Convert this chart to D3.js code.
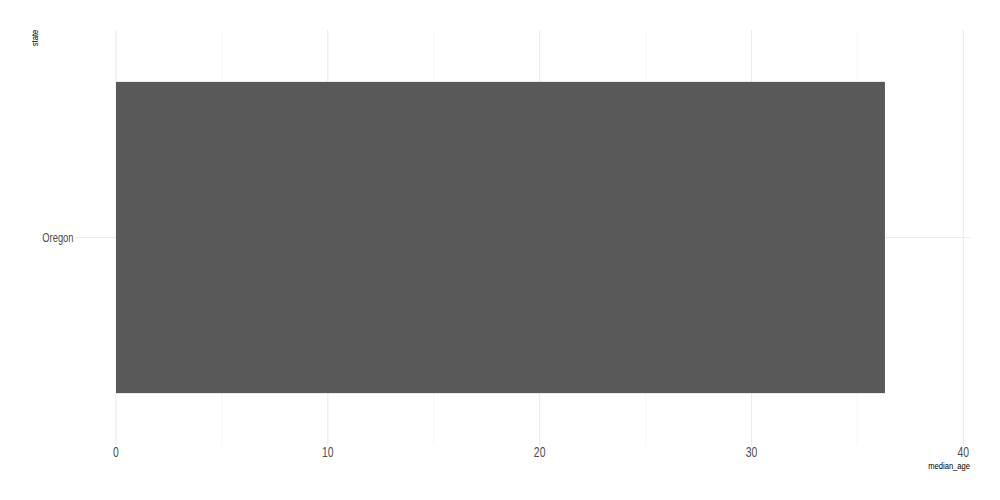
<!DOCTYPE html>
<html><head><meta charset="utf-8">
<script src="https://cdn.jsdelivr.net/npm/d3@7"></script>
<style>body{margin:0;background:#fff}svg{display:block}text{font-family:"Liberation Sans",Arial,sans-serif}</style>
</head><body><svg id="c" width="1000" height="500"></svg>
<script>
const states = ["Oregon"];
const medianAge = [36.3];
const xTicks = [0, 10, 20, 30, 40];
const xMinor = [5, 15, 25, 35];

const svg = d3.select("#c");
const panel = {left: 76, right: 970, top: 30, bottom: 445};
const x = d3.scaleLinear().domain([0, 40]).range([116, 963.3]);
// discrete axis: 1 unit of band = panel height / 1.2 (0.6 expansion each side)
const y = d3.scalePoint().domain(states).range([panel.top, panel.bottom]).padding(0.5);
const unit = (panel.bottom - panel.top) / 1.2;

const g = svg.append("g");
g.selectAll("line.minor").data(xMinor).join("line")
  .attr("x1", d => x(d)).attr("x2", d => x(d))
  .attr("y1", panel.top).attr("y2", panel.bottom)
  .attr("stroke", "#f2f2f2").attr("stroke-width", 0.6);
g.selectAll("line.major").data(xTicks).join("line")
  .attr("x1", d => x(d)).attr("x2", d => x(d))
  .attr("y1", panel.top).attr("y2", panel.bottom)
  .attr("stroke", "#ebebeb").attr("stroke-width", 1.1);
g.selectAll("line.h").data(states).join("line")
  .attr("x1", panel.left).attr("x2", panel.right)
  .attr("y1", d => y(d)).attr("y2", d => y(d))
  .attr("stroke", "#ebebeb").attr("stroke-width", 1.1);

g.selectAll("rect.bar").data(states).join("rect")
  .attr("x", x(0))
  .attr("y", d => y(d) - unit * 0.45)
  .attr("width", (d, i) => x(medianAge[i]) - x(0))
  .attr("height", unit * 0.9)
  .attr("fill", "#595959");

g.selectAll("text.xt").data(xTicks).join("text")
  .attr("transform", d => `translate(${x(d)},457.3) scale(0.72,1)`)
  .attr("text-anchor", "middle")
  .attr("font-size", 14.5).attr("fill", "#4d4d4d")
  .text(d => d);
g.selectAll("text.yt").data(states).join("text")
  .attr("transform", d => `translate(73.5,${y(d) + 4.8}) scale(0.72,1)`)
  .attr("text-anchor", "end")
  .attr("font-size", 13).attr("fill", "#4d4d4d")
  .text(d => d);
svg.append("text").attr("transform", "translate(970,469) scale(0.8,1)").attr("text-anchor", "end")
  .attr("font-size", 9.5).attr("fill", "#000").text("median_age");
svg.append("text").attr("transform", "translate(37.5,38) rotate(-90) scale(0.8,1)")
  .attr("text-anchor", "middle").attr("font-size", 9.5).attr("fill", "#000").text("state");
</script></body></html>
